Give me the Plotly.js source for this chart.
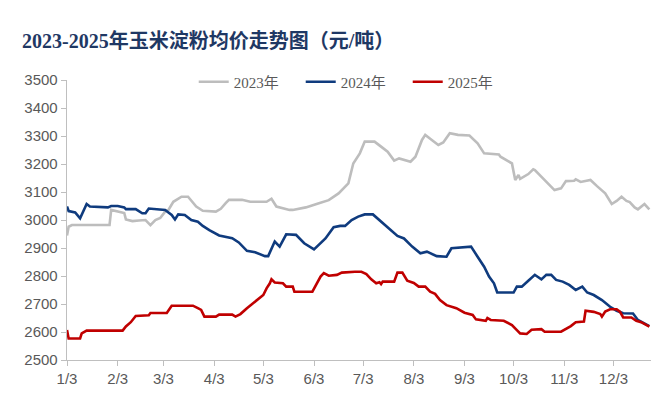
<!DOCTYPE html>
<html>
<head>
<meta charset="utf-8">
<script src="https://cdn.plot.ly/plotly-3.0.1.min.js"></script>
<style>
  html, body { margin: 0; padding: 0; background: #ffffff; }
  #chart { width: 660px; height: 396px; }
</style>
</head>
<body>
<div id="chart"></div>
<script>
// ---- Data (month-day, plotted on a common calendar year) ----
const dates2023 = ["01-03","01-04","01-06","01-29","01-30","02-03","02-07","02-08","02-12","02-16","02-20","02-23","02-26","03-01","03-04","03-06","03-08","03-09","03-14","03-18","03-23","03-27","04-04","04-07","04-10","04-12","04-20","04-25","05-05","05-08","05-11","05-13","05-19","05-21","05-29","06-06","06-12","06-18","06-24","06-27","07-01","07-04","07-10","07-14","07-18","07-22","07-25","08-01","08-04","08-08","08-10","08-14","08-18","08-21","08-25","08-30","09-06","09-11","09-15","09-24","09-25","10-02","10-04","10-06","10-07","10-12","10-15","10-16","10-21","10-25","10-28","11-01","11-04","11-09","11-10","11-13","11-19","11-23","11-28","12-02","12-05","12-08","12-11","12-13","12-16","12-18","12-21","12-22","12-25"];
const price2023 = [2945,2976,2982,2982,3036,3030,3025,3002,2996,2998,3000,2982,3000,3007,3030,3036,3055,3065,3083,3083,3048,3033,3030,3040,3060,3072,3072,3065,3065,3076,3048,3045,3036,3036,3045,3060,3071,3095,3131,3202,3238,3280,3280,3262,3244,3212,3220,3208,3226,3286,3304,3286,3268,3277,3310,3304,3302,3274,3238,3234,3226,3202,3143,3161,3147,3164,3181,3178,3149,3125,3107,3113,3139,3140,3145,3136,3143,3121,3095,3057,3068,3083,3068,3064,3045,3038,3050,3057,3038];

const dates2024 = ["01-03","01-04","01-08","01-11","01-15","01-17","01-28","01-30","02-03","02-07","02-08","02-14","02-18","02-20","02-22","03-04","03-08","03-10","03-12","03-16","03-20","03-24","03-27","03-31","04-06","04-14","04-18","04-23","04-28","05-04","05-06","05-10","05-13","05-17","05-23","05-28","06-03","06-07","06-10","06-15","06-19","06-22","06-26","06-30","07-04","07-09","07-13","07-18","07-24","07-28","08-02","08-07","08-11","08-17","08-23","08-26","09-07","09-11","09-15","09-18","09-21","09-23","10-03","10-05","10-08","10-12","10-16","10-17","10-20","10-23","10-26","10-29","11-02","11-06","11-10","11-14","11-17","11-21","11-26","12-01","12-05","12-09","12-15","12-18","12-25"];
const price2024 = [3048,3032,3027,3006,3057,3048,3045,3050,3050,3045,3039,3039,3024,3024,3041,3036,3018,3002,3020,3018,3000,2994,2979,2964,2945,2935,2920,2890,2885,2871,2871,2923,2905,2949,2947,2917,2895,2918,2934,2974,2979,2979,3000,3012,3020,3020,3000,2976,2943,2934,2905,2881,2887,2871,2869,2899,2905,2869,2833,2798,2774,2741,2741,2762,2762,2783,2804,2800,2788,2804,2804,2786,2780,2768,2750,2762,2741,2732,2714,2690,2676,2667,2666,2643,2621];

const dates2025 = ["01-03","01-04","01-11","01-12","01-15","02-06","02-08","02-11","02-14","02-22","02-23","03-05","03-08","03-21","03-24","03-26","03-28","04-04","04-06","04-14","04-16","04-19","04-23","04-28","05-03","05-05","05-07","05-08","05-10","05-15","05-17","05-21","05-22","06-02","06-04","06-07","06-09","06-12","06-17","06-20","06-28","07-02","07-05","07-08","07-11","07-13","07-14","07-15","07-22","07-24","07-27","07-30","08-03","08-06","08-10","08-13","08-16","08-19","08-23","08-29","09-03","09-08","09-10","09-16","09-17","09-19","09-27","10-02","10-05","10-07","10-11","10-14","10-20","10-22","11-01","11-07","11-10","11-15","11-16","11-21","11-25","11-26","11-28","12-01","12-05","12-07","12-09","12-14","12-17","12-20","12-25"];
const price2025 = [2607,2577,2577,2595,2605,2605,2620,2635,2657,2660,2668,2668,2694,2694,2685,2679,2655,2655,2662,2662,2655,2664,2685,2708,2732,2756,2774,2788,2777,2774,2762,2762,2744,2744,2768,2798,2810,2801,2804,2812,2815,2815,2807,2788,2774,2778,2771,2780,2780,2812,2812,2783,2775,2762,2762,2744,2736,2714,2696,2685,2669,2661,2645,2640,2650,2643,2640,2625,2607,2595,2593,2608,2610,2601,2601,2621,2635,2637,2676,2672,2664,2655,2673,2681,2681,2673,2652,2652,2640,2635,2619];

const seriesNames = ["2023年", "2024年", "2025年"];
const tickDates = ["01-03","02-03","03-03","04-03","05-03","06-03","07-03","08-03","09-03","10-03","11-03","12-03"];
const tickLabels = ["1/3","2/3","3/3","4/3","5/3","6/3","7/3","8/3","9/3","10/3","11/3","12/3"];
const titleText = "2023-2025年玉米淀粉均价走势图（元/吨）";

// common plotting year for the month-day axis
const YEAR = "2023-";
const toDate = arr => arr.map(d => YEAR + d);

const colors = ["#bdbdbd", "#0f3b7e", "#c00000"];
const allDates = [dates2023, dates2024, dates2025];
const allPrices = [price2023, price2024, price2025];

const traces = allDates.map((d, i) => ({
  type: "scatter",
  mode: "lines",
  name: seriesNames[i],
  x: toDate(d),
  y: allPrices[i],
  line: { color: colors[i], width: 2.6 },
  hoverinfo: "x+y+name"
}));

const tickFont = { family: "Liberation Sans, Arial, sans-serif", size: 15, color: "#595959" };

const layout = {
  width: 660,
  height: 396,
  margin: { l: 67, r: 9, t: 80, b: 36 },
  paper_bgcolor: "#ffffff",
  plot_bgcolor: "#ffffff",
  title: {
    text: titleText,
    font: { family: "Liberation Serif, Noto Sans CJK SC, serif", size: 20, color: "#1f3864", weight: 700 },
    x: 22 / 660,
    xanchor: "left",
    xref: "container",
    y: 1 - 41 / 396,
    yanchor: "middle",
    yref: "container"
  },
  showlegend: true,
  legend: {
    orientation: "h",
    x: 0.217,
    xanchor: "left",
    y: 0.993,
    yanchor: "middle",
    font: { family: "Liberation Serif, Noto Sans CJK SC, serif", size: 15, color: "#595959" },
    bgcolor: "rgba(0,0,0,0)",
    entrywidth: 62,
    entrywidthmode: "pixels",
    itemwidth: 30,
    tracegroupgap: 0
  },
  xaxis: {
    type: "date",
    range: [YEAR + "01-03", YEAR + "12-26"],
    tickmode: "array",
    tickvals: toDate(tickDates),
    ticktext: tickLabels,
    tickfont: tickFont,
    showgrid: false,
    zeroline: false,
    showline: true,
    linecolor: "#bfbfbf",
    linewidth: 1.3,
    ticks: "outside",
    ticklen: 5,
    tickcolor: "#bfbfbf",
    tickwidth: 1
  },
  yaxis: {
    range: [2500, 3500],
    tickmode: "linear",
    tick0: 2500,
    dtick: 100,
    tickfont: tickFont,
    showgrid: false,
    zeroline: false,
    showline: true,
    linecolor: "#bfbfbf",
    linewidth: 1.3,
    ticks: "outside",
    ticklen: 5,
    tickcolor: "#bfbfbf",
    tickwidth: 1
  }
};

Plotly.newPlot("chart", traces, layout, { displayModeBar: false, staticPlot: true });
</script>
</body>
</html>
